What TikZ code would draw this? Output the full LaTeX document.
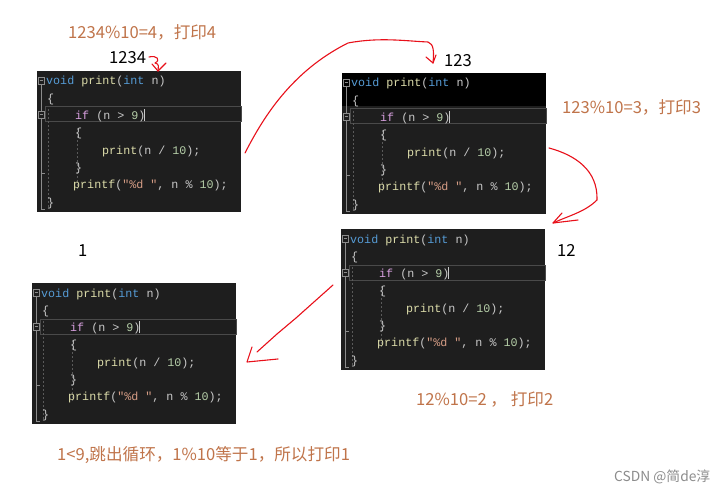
\documentclass[tikz,border=0pt]{standalone}
\usepackage{fontspec}
\usepackage{xcolor}
\usepackage{tikz}
\usetikzlibrary{arrows.meta}
\setmainfont{Liberation Sans}
\newfontfamily\codefont{Liberation Mono}
\newfontfamily\cjkfont{Noto Sans CJK SC}
\definecolor{codebg}{HTML}{1E1E1E}
\definecolor{kw}{HTML}{569CD6}
\definecolor{fn}{HTML}{DCDCAA}
\definecolor{ctl}{HTML}{D8A0DF}
\definecolor{num}{HTML}{B5CEA8}
\definecolor{str}{HTML}{D69D85}
\definecolor{plain}{HTML}{C8C8C8}
\definecolor{gut}{HTML}{8C8C8C}
\definecolor{guidec}{HTML}{5A5A5A}
\definecolor{hl}{HTML}{4A4A4A}
\definecolor{notec}{HTML}{C0744A}
\definecolor{pen}{HTML}{E8101A}

% one recursive call of print, drawn as an editor window
\newcommand{\codeblock}[4]{%
  \begin{scope}[shift={(#2,#3)}]
    \node[codebox] (#1) at (0,0) {};
    \fill[#4] (0,0) rectangle (204,33);
    \draw[hlbox] (8,36) rectangle (204,51);
    \draw[guide] (11,38) -- (11,137);
    \draw[guide] (40,57) -- (40,118);
    % gutter
    \draw[gutline] (1,6) rectangle (7,13) (2.5,9.5) -- (5.5,9.5);
    \draw[gutline] (1,40) rectangle (7,47) (2.5,43.5) -- (5.5,43.5);
    \draw[gutline] (4,13) -- (4,40) (4,47) -- (4,138) -- (8,138) (4,102) -- (8,102);
    \node[codeline] (#1-l1) at (9,14) {\textcolor{kw}{void} \textcolor{fn}{print}(\textcolor{kw}{int} n)};
    \node[codeline] (#1-l2) at (10,31.3) {\{};
    \node[codeline] (#1-l3) at (38,48.6) {\textcolor{ctl}{if} (n > \textcolor{num}{9})};
    \node[codeline] (#1-l4) at (38,65.9) {\{};
    \node[codeline] (#1-l5) at (65,83.2) {\textcolor{fn}{print}(n / \textcolor{num}{10});};
    \node[codeline] (#1-l6) at (38,100.5) {\}};
    \node[codeline] (#1-l7) at (36,117.8) {\textcolor{fn}{printf}(\textcolor{str}{"\%d "}, n \% \textcolor{num}{10});};
    \node[codeline] (#1-l8) at (10,135.1) {\}};
    \draw[cursor] (107.5,38) -- (107.5,50);
  \end{scope}}

\begin{document}
\begin{tikzpicture}[x=1pt, y=-1pt,
  codebox/.style={fill=codebg, anchor=north west, minimum width=204pt, minimum height=141pt, inner sep=0pt, outer sep=0pt},
  codeline/.style={anchor=base west, inner sep=0pt, text=plain, font=\codefont\fontsize{11.7}{12}\selectfont},
  hlbox/.style={draw=hl, line width=1pt},
  guide/.style={draw=guidec, dashed, dash pattern=on 2pt off 2pt, line width=0.6pt},
  gutline/.style={draw=gut, line width=0.6pt},
  cursor/.style={draw=plain, line width=0.8pt},
  note/.style={anchor=west, inner sep=0pt, text=notec, font=\cjkfont\fontsize{16.6}{19}\selectfont},
  val/.style={anchor=west, inner sep=0pt, text=black, font=\cjkfont\fontsize{16.6}{19}\selectfont},
  stroke/.style={draw=pen, line width=1.1pt, line cap=round, line join=round}]
  \useasboundingbox[fill=white] (0,0) rectangle (726,492);

  % the four calls
  \codeblock{call1}{37}{71}{codebg}
  \codeblock{call2}{342}{73}{black}
  \codeblock{call3}{341}{229}{codebg}
  \codeblock{call4}{32}{283}{codebg}

  % values of n and what gets printed
  \node[note] (res4) at (68,32) {1234\%10=4，打印4};
  \node[val] (n1234) at (109,58) {1234};
  \node[val] (n123) at (444,61) {123};
  \node[note] (res3) at (562,107) {123\%10=3，打印3};
  \node[val] (n12) at (557,250) {12};
  \node[val] (n1) at (78,251) {1};
  \node[note] (res2) at (416,399) {12\%10=2 ， 打印2};
  \node[note] (res1) at (57,455) {1<9,跳出循环，1\%10等于1，所以打印1};
  \node[anchor=west, inner sep=0pt, text=black!45, font=\cjkfont\fontsize{13.8}{15}\selectfont] (mark) at (614,477) {CSDN @简de淳};

  % red pen arrows
  \coordinate (p1s) at (149,57);
  \coordinate (p1e) at (158,71);
  \draw[stroke] (p1s) .. controls (157,55) and (161,60) .. (155,63) .. controls (160,64) and (158,67) .. (p1e);
  \draw[stroke] (152,64) -- (p1e) -- (166,63);

  \coordinate (p2s) at (245,153);
  \coordinate (p2e) at (433,63);
  \draw[stroke] (p2s) .. controls (262,120) and (290,72) .. (348,43) .. controls (380,37) and (405,41) .. (428,42) .. controls (434,44) and (434,52) .. (p2e);
  \draw[stroke] (426,57) -- (p2e) -- (436,55);

  \coordinate (p3s) at (549,148);
  \coordinate (p3e) at (553,223);
  \draw[stroke] (p3s) .. controls (575,155) and (598,170) .. (597,200) .. controls (585,212) and (568,216) .. (p3e);
  \draw[stroke] (562,213) -- (p3e) -- (578,220);

  \coordinate (p4s) at (333,285);
  \coordinate (p4e) at (247,362);
  \draw[stroke] (p4s) -- (296,318) -- (277,334) -- (257,352);
  \draw[stroke] (252,347) -- (p4e) -- (278,359);
\end{tikzpicture}
\end{document}
